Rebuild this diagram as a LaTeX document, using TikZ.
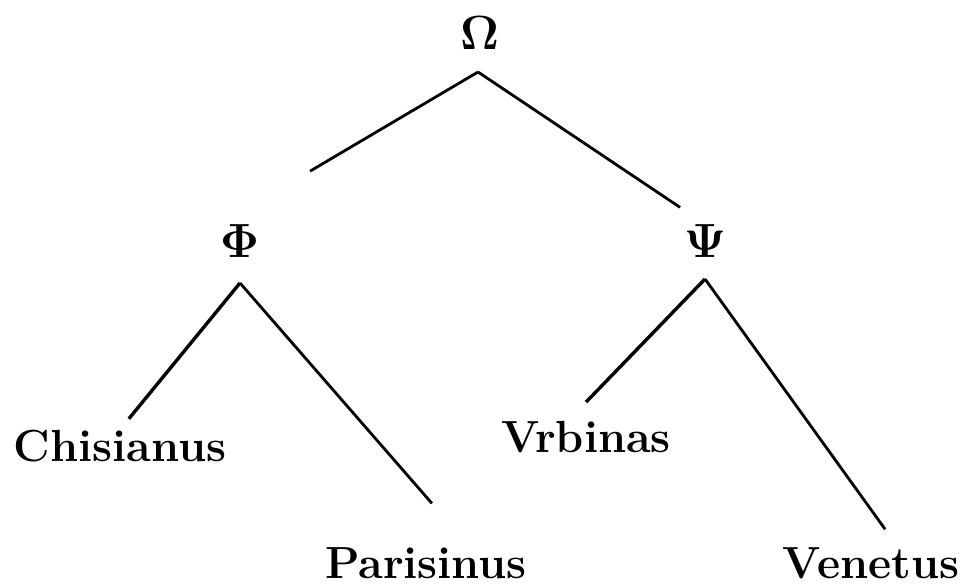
\RequirePackage{fix-cm}
\documentclass[tikz,border=0pt]{standalone}
\usepackage{tikz}
\usetikzlibrary{positioning, calc}

\begin{document}
\begin{tikzpicture}[
    x=1pt, y=-1pt,
    witness/.style={inner sep=0pt, outer sep=0pt, anchor=base, font=\fontsize{45}{54}\selectfont\bfseries},
    hyparch/.style={inner sep=0pt, outer sep=0pt, anchor=base, font=\fontsize{48}{56}\selectfont},
    edge/.style={line width=3.4pt, draw=black},
    thinedge/.style={line width=2.8pt, draw=black}
]
\useasboundingbox (0,0) rectangle (965,585);

% Nodes
\node[hyparch] (omega) at (480,50) {$\mathbf{\Omega}$};
\node[hyparch] (phi) at (240,257) {$\mathbf{\Phi}$};
\node[hyparch] (psi) at (705,257) {$\mathbf{\Psi}$};
\node[witness] (chis) at (120,461) {Chisianus};
\node[witness] (paris) at (426,578) {Parisinus};
\node[witness] (vrb) at (586,452) {Vrbinas};
\node[witness] (ven) at (871,578) {Venetus};

% Edges
\draw[thinedge, shorten >=104pt] ([xshift=-2pt,yshift=-22pt]omega.south) -- (phi.north west);
\draw[thinedge, shorten >=30pt] ([xshift=-2pt,yshift=-22pt]omega.south) -- (psi.north);
\draw[edge, shorten >=14pt] ([yshift=-26pt]phi.south) -- (chis.north);
\draw[thinedge, shorten >=58pt] ([yshift=-26pt]phi.south) -- ([xshift=44pt]paris.north);
\draw[edge, shorten >=26pt] ([yshift=-22pt]psi.south) -- ([xshift=-18pt]vrb.north);
\draw[thinedge, shorten >=22pt] ([yshift=-22pt]psi.south) -- ([xshift=27pt]ven.north);

\end{tikzpicture}
\end{document}
